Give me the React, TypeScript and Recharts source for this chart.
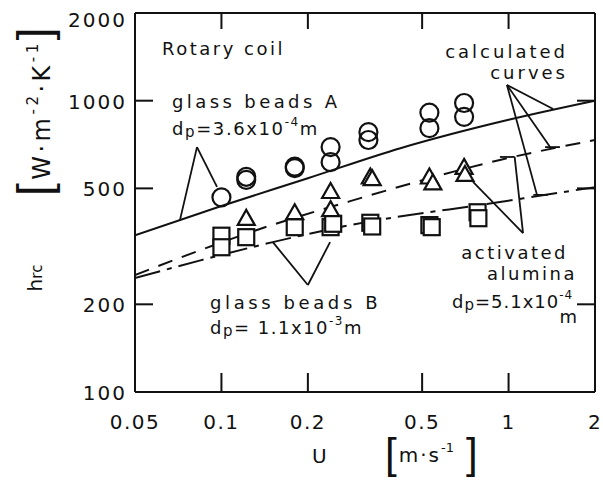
import React from "react";
import { ComposedChart, Line, ReferenceLine, Scatter, XAxis, YAxis } from "recharts";

// axis ticks
const X_TICKS = [0.05, 0.1, 0.2, 0.5, 1, 2];
const X_LABELS = ["0.05", "0.1", "0.2", "0.5", "1", "2"];
const Y_TICKS = [100, 200, 500, 1000, 2000];
const Y_LABELS = ["100", "200", "500", "1000", "2000"];
// ticks drawn as short inward marks on all four sides
const X_INNER = [0.1, 0.2, 0.5, 1];
const Y_INNER = [200, 500, 1000];

// glass beads A (circles)
const A_U = [0.1, 0.122, 0.122, 0.18, 0.18, 0.24, 0.24, 0.325, 0.325, 0.53, 0.53, 0.7, 0.7];
const A_H = [466, 535, 548, 587, 594, 615, 693, 733, 780, 805, 910, 880, 982];

// activated alumina (triangles)
const AL_U = [0.122, 0.18, 0.24, 0.24, 0.33, 0.335, 0.53, 0.545, 0.7, 0.705];
const AL_H = [393, 411, 486, 421, 545, 538, 545, 520, 588, 556];

// glass beads B (squares)
const B_U = [0.1, 0.1, 0.122, 0.18, 0.24, 0.245, 0.33, 0.335, 0.53, 0.54, 0.78, 0.785];
const B_H = [344, 314, 340, 368, 368, 378, 381, 370, 374, 368, 414, 395];

// calculated curves
const CALC_A_U = [0.05, 0.1, 0.2, 0.42, 1, 2];
const CALC_A_H = [345, 435, 542, 687, 860, 1000];
const CALC_AL_U = [0.05, 0.0845, 0.133, 0.281, 0.933, 2];
const CALC_AL_H = [252, 307, 360, 452, 626, 733];
const CALC_B_U = [0.05, 0.0845, 0.151, 0.281, 0.933, 2];
const CALC_B_H = [246, 283, 327, 374, 449, 505];

// pointer lines of the annotations, in data units [u1, h1, u2, h2]
const POINTERS = [
  [0.0822, 693, 0.0717, 389],
  [0.0822, 693, 0.0965, 506],
  [0.987, 1132, 1.43, 936],
  [0.987, 1132, 1.395, 693],
  [0.987, 1132, 1.256, 475],
  [1.34, 693, 1.51, 693],
  [1.22, 475, 1.37, 475],
  [1.123, 351, 0.752, 526],
  [1.123, 351, 1.05, 641],
  [0.933, 641, 1.05, 641],
  [0.2, 233, 0.151, 327],
  [0.2, 233, 0.239, 327],
];

const pts = (us: number[], hs: number[]) => us.map((u, i) => ({ u, h: hs[i] }));

const X_MIN = 0.05;
const X_MAX = 2;
const Y_MIN = 100;
const Y_MAX = 2000;

// plot box (chart margins + 1px axes)
const W = 603;
const H = 481;
const M = { top: 12, right: 7, bottom: 88, left: 134 };
const PL = M.left + 1;
const PR = W - M.right - 1;
const PT = M.top + 1;
const PB = H - M.bottom - 1;
// same log mapping as the axes, used for the frame tick stubs only
const px = (u: number) => PL + ((Math.log10(u) - Math.log10(X_MIN)) / (Math.log10(X_MAX) - Math.log10(X_MIN))) * (PR - PL);
const py = (h: number) => PB - ((Math.log10(h) - Math.log10(Y_MIN)) / (Math.log10(Y_MAX) - Math.log10(Y_MIN))) * (PB - PT);

const INK = "#111";
const FONT = "DejaVu Sans, sans-serif";

function BottomTick({ x, y, payload }: any) {
  const i = X_TICKS.indexOf(payload.value);
  return (
    <text x={x} y={y + 37} textAnchor="middle" fontSize={20} letterSpacing={1.5} fill={INK} fontFamily={FONT}>
      {X_LABELS[i]}
    </text>
  );
}

function LeftTick({ x, y, payload }: any) {
  const v = payload.value;
  const i = Y_TICKS.indexOf(v);
  return (
    <text x={x - 8} y={v === 2000 ? y + 14 : y + 8} textAnchor="end" fontSize={20} letterSpacing={2} fill={INK} fontFamily={FONT}>
      {Y_LABELS[i]}
    </text>
  );
}

function NoTick() {
  return <g />;
}

function CircleMark({ cx, cy }: any) {
  if (cx == null || cy == null) return null;
  return <circle cx={cx} cy={cy} r={9} fill="none" stroke={INK} strokeWidth={2.2} />;
}

function TriMark({ cx, cy }: any) {
  if (cx == null || cy == null) return null;
  return (
    <polygon
      points={`${cx},${cy - 9} ${cx + 8.5},${cy + 6} ${cx - 8.5},${cy + 6}`}
      fill="#fff"
      stroke={INK}
      strokeWidth={2.2}
    />
  );
}

function SquareMark({ cx, cy }: any) {
  if (cx == null || cy == null) return null;
  return <rect x={cx - 8} y={cy - 8} width={16} height={16} fill="#fff" stroke={INK} strokeWidth={2.2} />;
}

const txt = { fontFamily: FONT, fill: INK } as const;

const axisCommon = {
  type: "number" as const,
  scale: "log" as const,
  interval: 0,
  allowDataOverflow: true,
  tickSize: 0,
  tickMargin: 0,
  tickLine: false,
  axisLine: { stroke: INK, strokeWidth: 2 },
};

export default function App() {
  return (
    <div style={{ position: "relative", width: W, height: H, background: "#fff" }}>
      <style>{`body{margin:0}`}</style>
      <ComposedChart width={W} height={H} margin={M}>
        <XAxis {...axisCommon} dataKey="u" domain={[X_MIN, X_MAX]} ticks={X_TICKS} height={1} tick={<BottomTick />} />
        <XAxis
          {...axisCommon}
          xAxisId="top"
          orientation="top"
          dataKey="u"
          domain={[X_MIN, X_MAX]}
          ticks={X_TICKS}
          height={1}
          tick={<NoTick />}
        />
        <YAxis {...axisCommon} dataKey="h" domain={[Y_MIN, Y_MAX]} ticks={Y_TICKS} width={1} tick={<LeftTick />} />
        <YAxis
          {...axisCommon}
          yAxisId="right"
          orientation="right"
          dataKey="h"
          domain={[Y_MIN, Y_MAX]}
          ticks={Y_TICKS}
          width={1}
          tick={<NoTick />}
        />

        <Line data={pts(CALC_A_U, CALC_A_H)} dataKey="h" type="monotone" stroke={INK} strokeWidth={2} dot={false} activeDot={false} isAnimationActive={false} />
        <Line data={pts(CALC_AL_U, CALC_AL_H)} dataKey="h" type="monotone" stroke={INK} strokeWidth={2} strokeDasharray="15 10" dot={false} activeDot={false} isAnimationActive={false} />
        <Line data={pts(CALC_B_U, CALC_B_H)} dataKey="h" type="monotone" stroke={INK} strokeWidth={2} strokeDasharray="26 7 5 7" dot={false} activeDot={false} isAnimationActive={false} />

        {POINTERS.map((p, i) => (
          <ReferenceLine
            key={i}
            segment={[{ x: p[0], y: p[1] }, { x: p[2], y: p[3] }]}
            stroke={INK}
            strokeWidth={1.8}
            ifOverflow="visible"
          />
        ))}

        <Scatter data={pts(B_U, B_H)} dataKey="h" shape={<SquareMark />} isAnimationActive={false} />
        <Scatter data={pts(AL_U, AL_H)} dataKey="h" shape={<TriMark />} isAnimationActive={false} />
        <Scatter data={pts(A_U, A_H)} dataKey="h" shape={<CircleMark />} isAnimationActive={false} />
      </ComposedChart>

      <svg width={W} height={H} style={{ position: "absolute", left: 0, top: 0, pointerEvents: "none" }}>
        {/* inward tick stubs on the frame, as thin filled bars */}
        {X_INNER.map((u) => (
          <g key={`x${u}`}>
            <rect x={px(u) - 1} y={PB - 19} width={2} height={19} fill={INK} />
            <rect x={px(u) - 1} y={PT} width={2} height={16} fill={INK} />
          </g>
        ))}
        {Y_INNER.map((h) => (
          <g key={`y${h}`}>
            <rect x={PL} y={py(h) - 1} width={18} height={2} fill={INK} />
            <rect x={PR - 18} y={py(h) - 1} width={18} height={2} fill={INK} />
          </g>
        ))}

        <g transform="translate(50,110) rotate(-90)">
          <text textAnchor="middle" fontSize={24} letterSpacing={3.5} {...txt}>
            <tspan fontFamily="Liberation Sans" fontSize={46}>[</tspan>
            <tspan>W·m</tspan>
            <tspan fontSize={15} dy={-12}>-2</tspan>
            <tspan dy={12}>·K</tspan>
            <tspan fontSize={15} dy={-12}>-1</tspan>
            <tspan fontFamily="Liberation Sans" fontSize={46} dy={12}>]</tspan>
          </text>
        </g>
        <g transform="translate(42,278) rotate(-90)">
          <text textAnchor="middle" fontSize={20} {...txt}>
            <tspan>h</tspan>
            <tspan fontSize={15}>rc</tspan>
          </text>
        </g>

        <text x={162} y={55} fontSize={18} letterSpacing={2.5} {...txt}>Rotary coil</text>

        <text x={172} y={108} fontSize={18} letterSpacing={3.4} {...txt}>glass beads A</text>
        <text x={172} y={135} fontSize={18} letterSpacing={1.6} {...txt}>
          <tspan>d</tspan>
          <tspan fontSize={15} dy={2}>p</tspan>
          <tspan dy={-2}>=3.6x10</tspan>
          <tspan fontSize={12} dy={-9}>-4</tspan>
          <tspan dy={9}>m</tspan>
        </text>

        <text x={568} y={58} textAnchor="end" fontSize={18} letterSpacing={3} {...txt}>calculated</text>
        <text x={568} y={79} textAnchor="end" fontSize={18} letterSpacing={3} {...txt}>curves</text>

        <text x={210} y={309} fontSize={18} letterSpacing={3.6} {...txt}>glass beads B</text>
        <text x={210} y={334} fontSize={18} letterSpacing={1.5} {...txt}>
          <tspan>d</tspan>
          <tspan fontSize={15} dy={2}>p</tspan>
          <tspan dy={-2}>= 1.1x10</tspan>
          <tspan fontSize={12} dy={-9}>-3</tspan>
          <tspan dy={9}>m</tspan>
        </text>

        <text x={568} y={259} textAnchor="end" fontSize={18} letterSpacing={2.5} {...txt}>activated</text>
        <text x={577} y={280} textAnchor="end" fontSize={18} letterSpacing={2.5} {...txt}>alumina</text>
        <text x={452} y={308} fontSize={18} letterSpacing={1} {...txt}>
          <tspan>d</tspan>
          <tspan fontSize={15} dy={2}>p</tspan>
          <tspan dy={-2}>=5.1x10</tspan>
          <tspan fontSize={12} dy={-9}>-4</tspan>
        </text>
        <text x={577} y={323} textAnchor="end" fontSize={18} {...txt}>m</text>

        <text x={312} y={463} fontSize={20} {...txt}>U</text>
        <text x={385} y={468} fontSize={20} {...txt}>
          <tspan fontFamily="Liberation Sans" fontSize={42}>[</tspan>
          <tspan dy={-6} dx={2} letterSpacing={2}>m·s</tspan>
          <tspan fontSize={13} dy={-10}>-1</tspan>
          <tspan fontFamily="Liberation Sans" fontSize={42} dy={16} dx={12}>]</tspan>
        </text>
      </svg>
    </div>
  );
}
